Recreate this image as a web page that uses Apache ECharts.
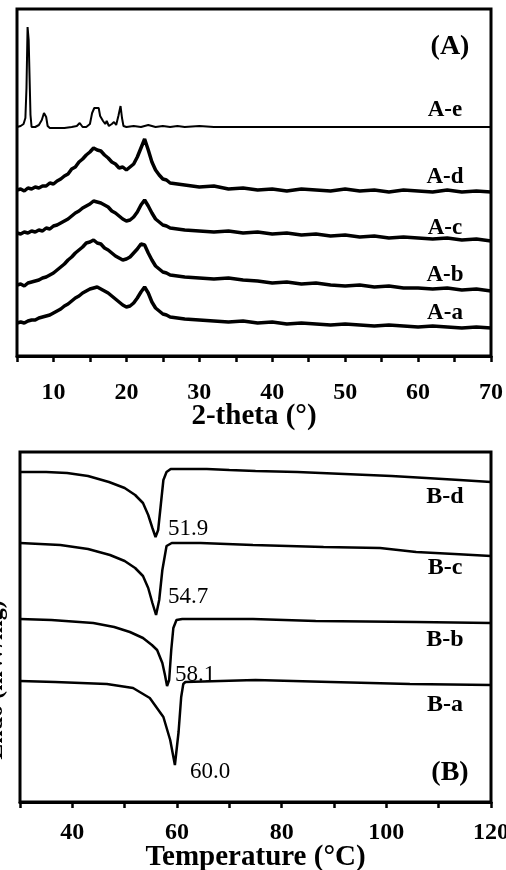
<!DOCTYPE html>
<html>
<head>
<meta charset="utf-8">
<script src="https://cdn.jsdelivr.net/npm/echarts@6/dist/echarts.min.js"></script>
<style>
  html, body { margin: 0; padding: 0; background: #fff; }
  #chart { width: 506px; height: 870px; }
</style>
</head>
<body>
<div id="chart"></div>
<script>
// ---- panel A: XRD (2-theta, arbitrary intensity incl. stacking offset) ----
const thetaGrid = [5, 5.5, 6, 6.5, 7, 7.5, 8, 8.5, 9, 9.5, 10, 10.5, 11, 11.5, 12, 12.5, 13, 13.5, 14, 14.5,
  15, 15.5, 16, 16.5, 17, 17.5, 18, 18.5, 19, 19.5, 20, 20.5, 21, 21.5, 22, 22.5, 23, 23.5, 24, 24.5,
  25, 25.5, 26, 28, 30, 32, 34, 36, 38, 40, 42, 44, 46, 48, 50, 52, 54, 56, 58, 60, 62, 64, 66, 68, 70];

const xrdA_d = [166, 167, 165, 168, 167, 169, 168, 170, 170, 173, 172, 175, 177, 180, 182, 187, 189, 194, 197, 201,
  204, 208, 206, 205, 201, 198, 194, 192, 188, 189, 186, 189, 192, 199, 208, 217, 206, 194, 186, 181,
  177, 176, 173, 171, 169, 170, 167, 168, 166, 167, 165, 167, 166, 165, 167, 165, 166, 164, 166, 165, 164, 166, 164, 165, 164];
const xrdA_c = [123, 122, 124, 123, 125, 124, 126, 125, 128, 127, 130, 131, 133, 135, 137, 140, 143, 145, 148, 150,
  152, 155, 154, 153, 151, 149, 145, 143, 140, 137, 135, 136, 139, 144, 151, 156, 150, 143, 137, 134,
  131, 130, 128, 126, 125, 124, 125, 123, 124, 122, 123, 121, 122, 120, 121, 119, 120, 118, 119, 118, 117, 118, 116, 117, 115];
const xrdA_b = [71, 72, 70, 73, 74, 75, 76, 78, 79, 81, 83, 86, 89, 92, 96, 99, 103, 106, 109, 113,
  114, 116, 113, 112, 108, 106, 103, 100, 98, 96, 97, 99, 103, 107, 112, 111, 103, 96, 90, 87,
  84, 83, 81, 79, 78, 77, 78, 76, 75, 73, 74, 72, 73, 71, 70, 71, 69, 70, 68, 68, 67, 68, 66, 67, 65];
const xrdA_a = [33, 34, 33, 35, 36, 36, 38, 39, 40, 41, 43, 45, 47, 50, 52, 55, 58, 60, 63, 65,
  67, 68, 69, 67, 65, 63, 60, 57, 54, 51, 49, 50, 53, 58, 64, 69, 63, 54, 48, 45,
  42, 41, 39, 37, 36, 35, 34, 35, 33, 34, 32, 33, 32, 31, 32, 31, 30, 31, 30, 29, 30, 29, 28, 29, 28];

// crystalline sample A-e has sharp reflections, so it gets its own x list
const thetaE = [5.0, 5.5, 5.9, 6.15, 6.3, 6.45, 6.6, 6.75, 6.85, 7.0, 7.5, 8.0, 8.4, 8.7, 9.0, 9.2, 9.5, 10.5, 11.5, 12.5,
  13.2, 13.6, 14.0, 14.5, 15.0, 15.3, 15.6, 16.2, 16.4, 16.8, 17.1, 17.3, 17.6, 18.0, 18.3, 18.6, 18.9, 19.2, 19.4, 19.6,
  20, 21, 22, 23, 24, 25, 26, 27, 28, 30, 32, 36, 40, 50, 60, 70];
const xrdA_e = [229, 230, 232, 238, 268, 329, 316, 314, 241, 229, 229, 231, 236, 243, 239, 230, 228, 228, 228, 229,
  230, 233, 229, 229, 232, 243, 248, 248, 240, 235, 232, 235, 230, 232, 234, 231, 240, 250, 238, 230,
  229, 230, 229, 231, 229, 230, 229, 230, 229, 230, 229, 229, 229, 229, 229, 229];

// ---- panel B: DSC (temperature, heat flow incl. stacking offset) ----
const tempBd = [30, 35, 39, 43, 47, 50, 52, 53.5, 54.5, 55.3, 55.9, 56.4, 56.9, 57.4, 58, 58.8, 62, 65.7, 70, 75, 83, 92, 101, 107.6, 114, 120];
const dscBd = [330, 330, 329, 326, 320, 314, 307, 299, 287, 274, 265, 272, 297, 322, 330, 333, 333, 333, 332, 331, 330, 328, 326, 324, 322, 320];
const tempBc = [30, 37.7, 43, 47.2, 50, 52, 53.5, 54.5, 55.3, 56, 56.6, 57.2, 58, 59, 64.5, 74.5, 88, 98.8, 105.7, 113, 120];
const dscBc = [259, 257, 253, 247, 241, 234, 226, 214, 199, 187, 202, 232, 256, 259, 259, 257, 255, 254, 250, 248, 246];
const tempBb = [30, 36, 44, 48, 51, 53.5, 55.2, 56.2, 57.2, 57.7, 58.1, 58.5, 58.9, 59.3, 59.9, 61, 74.5, 86.5, 105.7, 120];
const dscBb = [183, 182, 179, 175, 170, 164, 157, 152, 139, 127, 116, 122, 152, 174, 182, 183, 183, 181, 180, 179];
const tempBa = [30, 36.7, 46.6, 51.6, 54.8, 57.4, 58.7, 59.6, 59.7, 60.3, 60.8, 61.2, 61.6, 75, 89.4, 104.5, 120];
const dscBa = [121, 120, 118, 114, 104, 85, 62, 37, 37, 70, 105, 118, 120, 122, 120, 118, 117];

const zip = (xs, ys) => xs.map((x, i) => [x, ys[i]]);

const serif = '"Liberation Serif", "Times New Roman", serif';

const lineSeries = (name, xi, data, width) => ({
  name, type: 'line', xAxisIndex: xi, yAxisIndex: xi,
  data, showSymbol: false, smooth: false,
  lineStyle: { color: '#000', width },
  silent: true, animation: false
});

const txt = (text, x, y, size, bold, align) => ({
  type: 'text', x, y,
  style: {
    text, fill: '#000', font: (bold ? 'bold ' : '') + size + 'px ' + serif,
    textAlign: align || 'center', textVerticalAlign: 'middle'
  }
});

const chart = echarts.init(document.getElementById('chart'), null, { renderer: 'canvas' });

const xBase = {
  type: 'value',
  axisLine: { lineStyle: { color: '#000', width: 3 } },
  axisTick: { show: true, inside: false, length: 6, lineStyle: { color: '#000', width: 2.5 } },
  splitLine: { show: false },
  axisLabel: { color: '#000', fontFamily: serif, fontWeight: 'bold', fontSize: 24, margin: 25 },
  nameLocation: 'middle',
  nameMoveOverlap: false,
  nameTextStyle: { color: '#000', fontFamily: serif, fontWeight: 'bold', fontSize: 29 }
};

chart.setOption({
  backgroundColor: '#fff',
  animation: false,
  grid: [
    { left: 17, right: 15, top: 9, height: 347, show: true, borderColor: '#000', borderWidth: 3,
      backgroundColor: 'transparent', containLabel: false, outerBoundsMode: 'none' },
    { left: 20, right: 15, top: 452, height: 350, show: true, borderColor: '#000', borderWidth: 3,
      backgroundColor: 'transparent', containLabel: false, outerBoundsMode: 'none' }
  ],
  xAxis: [
    Object.assign({}, xBase, {
      gridIndex: 0, min: 5, max: 70, interval: 5,
      name: '2-theta (°)', nameGap: 46,
      axisLabel: Object.assign({}, xBase.axisLabel, { formatter: v => (v % 10 === 0 ? String(v) : '') })
    }),
    Object.assign({}, xBase, {
      gridIndex: 1, min: 30, max: 120, interval: 10,
      name: 'Temperature (°C)', nameGap: 41,
      axisLabel: Object.assign({}, xBase.axisLabel, { margin: 19, formatter: v => (v % 20 === 0 && v > 30 ? String(v) : '') })
    })
  ],
  yAxis: [
    { type: 'value', gridIndex: 0, min: 0, max: 347, show: false, splitLine: { show: false } },
    { type: 'value', gridIndex: 1, min: 0, max: 350, show: false, splitLine: { show: false } }
  ],
  series: [
    lineSeries('A-e', 0, zip(thetaE, xrdA_e), 2),
    lineSeries('A-d', 0, zip(thetaGrid, xrdA_d), 3.5),
    lineSeries('A-c', 0, zip(thetaGrid, xrdA_c), 3.5),
    lineSeries('A-b', 0, zip(thetaGrid, xrdA_b), 3.5),
    lineSeries('A-a', 0, zip(thetaGrid, xrdA_a), 3.5),
    lineSeries('B-d', 1, zip(tempBd, dscBd), 2.5),
    lineSeries('B-c', 1, zip(tempBc, dscBc), 2.5),
    lineSeries('B-b', 1, zip(tempBb, dscBb), 2.5),
    lineSeries('B-a', 1, zip(tempBa, dscBa), 2.5)
  ],
  graphic: [
    txt('(A)', 450, 47, 28, true),
    txt('A-e', 445, 110, 23, true),
    txt('A-d', 445, 177, 23, true),
    txt('A-c', 445, 228, 23, true),
    txt('A-b', 445, 275, 23, true),
    txt('A-a', 445, 313, 23, true),
    txt('B-d', 445, 497, 24, true),
    txt('B-c', 445, 568, 24, true),
    txt('B-b', 445, 640, 24, true),
    txt('B-a', 445, 705, 24, true),
    txt('(B)', 450, 773, 28, true),
    txt('51.9', 168, 529, 23, false, 'left'),
    txt('54.7', 168, 597, 23, false, 'left'),
    txt('58.1', 175, 675, 23, false, 'left'),
    txt('60.0', 190, 772, 23, false, 'left'),
    {
      type: 'text', x: 8, y: 680, rotation: Math.PI / 2,
      style: {
        text: 'Endo (mW/mg)', fill: '#000', font: 'bold 24px ' + serif,
        textAlign: 'center', textVerticalAlign: 'bottom'
      }
    }
  ]
});
</script>
</body>
</html>
